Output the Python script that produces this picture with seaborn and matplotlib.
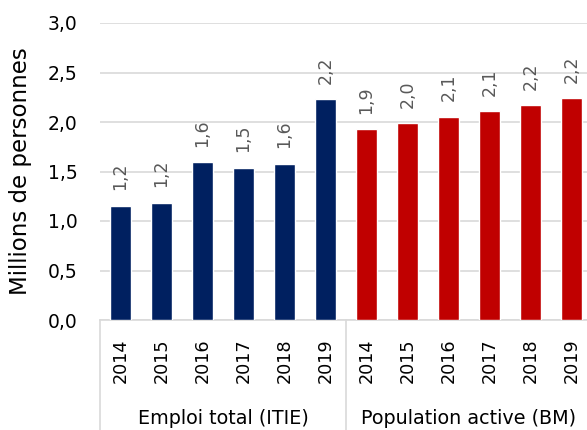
import matplotlib
matplotlib.use('Agg')
import matplotlib.pyplot as plt
import matplotlib.transforms as mtransforms
import pandas as pd
import seaborn as sns

years = ['2014', '2015', '2016', '2017', '2018', '2019']
groups = ['Emploi total (ITIE)', 'Population active (BM)']
emploi_total = [1.155, 1.185, 1.593, 1.54, 1.58, 2.23]
population_active = [1.93, 1.99, 2.055, 2.11, 2.17, 2.24]
group_colors = ['#002060', '#C00000']

rows = []
for g, vals in zip(groups, [emploi_total, population_active]):
    for y, v in zip(years, vals):
        rows.append({'cat': f"{g} {y}", 'year': y, 'group': g, 'value': v})
df = pd.DataFrame(rows)

sns.set_style("white")
plt.rcParams['font.family'] = ['DejaVu Sans']
plt.rcParams['text.color'] = 'black'
plt.rcParams['xtick.color'] = 'black'
plt.rcParams['ytick.color'] = 'black'
plt.rcParams['axes.labelcolor'] = 'black'

fig = plt.figure(figsize=(5.87, 4.30), dpi=100)
ax = fig.add_axes([100 / 587, 110 / 430, 492 / 587, 297 / 430])

sns.barplot(data=df, x='cat', y='value', hue='group', palette=group_colors,
            dodge=False, width=0.5, saturation=1, legend=False, ax=ax, zorder=3)

ax.set_ylim(0, 3.0)
ax.set_xlim(-0.5, len(df) - 0.5)
ax.set_yticks([0, 0.5, 1.0, 1.5, 2.0, 2.5, 3.0])
ax.set_yticklabels([f"{t:.1f}".replace('.', ',') for t in ax.get_yticks()], fontsize=13.5)
ax.yaxis.grid(True, color='#d9d9d9', linewidth=1.2, zorder=0)
ax.set_axisbelow(True)

for side in ['left', 'right', 'top']:
    ax.spines[side].set_visible(False)
ax.spines['bottom'].set_color('#d9d9d9')
ax.spines['bottom'].set_linewidth(1.2)

ax.set_xticks(range(len(df)))
ax.set_xticklabels(df['year'], rotation=90, fontsize=12.7)
ax.tick_params(axis='x', length=0, pad=13)
ax.tick_params(axis='y', length=0, pad=16)

ax.set_xlabel('')
ax.set_ylabel('Millions de personnes', fontsize=16.5)
ax.yaxis.set_label_coords(-0.138, 0.5)

for container in ax.containers:
    ax.bar_label(container, fmt=lambda v: f"{v:.1f}".replace('.', ','),
                 rotation=90, padding=11, fontsize=12.5, color='#595959')

# group separators and labels below the year ticks
trans = mtransforms.blended_transform_factory(ax.transData, ax.transAxes)
for x in [-0.5, 5.5, 11.5]:
    ax.plot([x, x], [0, -0.38], transform=trans, color='#d9d9d9',
            linewidth=1.2, clip_on=False)
for i, g in enumerate(groups):
    ax.text(i * 6 + 2.5, -0.33, g, transform=trans, ha='center', va='center',
            fontsize=13.8)

plt.savefig('out.png', dpi=100)
